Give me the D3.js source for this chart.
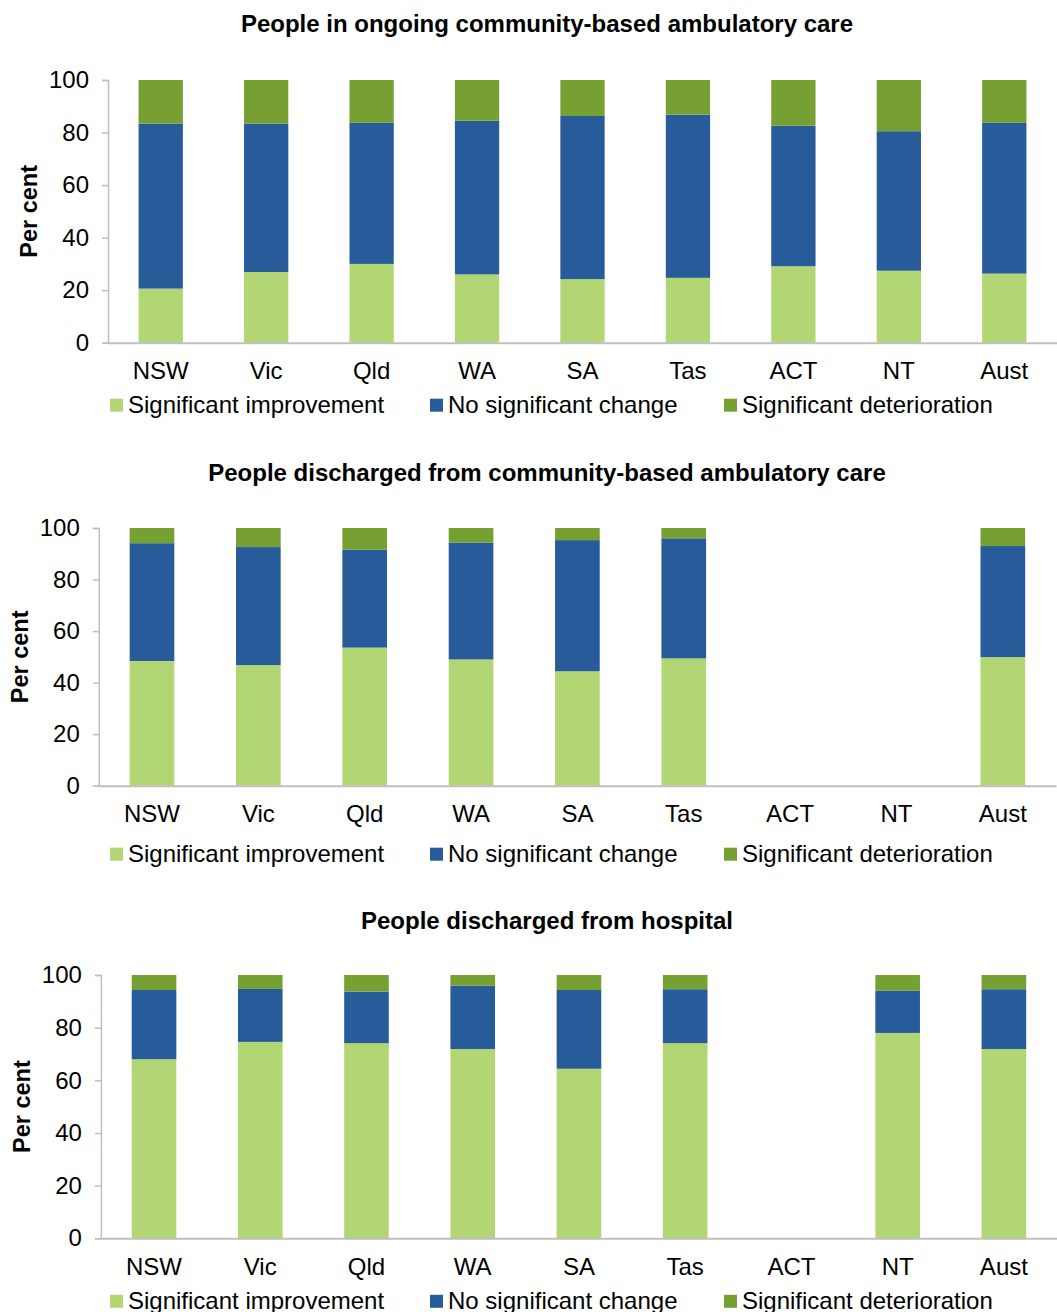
<!DOCTYPE html>
<html>
<head>
<meta charset="utf-8">
<script src="https://cdn.jsdelivr.net/npm/d3@7"></script>
<style>
  html, body { margin: 0; padding: 0; background: #fff; }
  svg { display: block; }
  text { font-family: "Liberation Sans", Arial, sans-serif; fill: #000; }
</style>
</head>
<body>
<svg id="chart" width="1057" height="1312"></svg>
<script>
// ---------- data ----------
const categories = ["NSW", "Vic", "Qld", "WA", "SA", "Tas", "ACT", "NT", "Aust"];
const seriesNames = ["Significant improvement", "No significant change", "Significant deterioration"];
const yTicks = [0, 20, 40, 60, 80, 100];

const panelTitles = [
  "People in ongoing community-based ambulatory care",
  "People discharged from community-based ambulatory care",
  "People discharged from hospital"
];

// Panel 1: ongoing community-based ambulatory care
const ongoingImprovement   = [20.6, 26.9, 30.0, 26.0, 24.2, 24.7, 29.1, 27.4, 26.3];
const ongoingNoChange      = [62.8, 56.5, 53.7, 58.5, 62.1, 62.1, 53.5, 53.1, 57.4];
const ongoingDeterioration = [16.6, 16.6, 16.3, 15.5, 13.7, 13.2, 17.4, 19.5, 16.3];

// Panel 2: discharged from community-based ambulatory care (ACT, NT not available)
const commDischImprovement   = [48.4, 46.8, 53.6, 49.0, 44.4, 49.4, null, null, 49.9];
const commDischNoChange      = [45.7, 45.8, 38.0, 45.3, 50.9, 46.6, null, null, 43.1];
const commDischDeterioration = [5.9, 7.4, 8.4, 5.7, 4.7, 4.0, null, null, 7.0];

// Panel 3: discharged from hospital (ACT not available)
const hospDischImprovement   = [68.0, 74.6, 74.1, 71.9, 64.4, 74.1, null, 78.0, 71.9];
const hospDischNoChange      = [26.3, 20.1, 19.6, 24.0, 29.9, 20.5, null, 16.0, 22.7];
const hospDischDeterioration = [5.7, 5.3, 6.3, 4.1, 5.7, 5.4, null, 6.0, 5.4];

const colors = ["#B3D675", "#275B9A", "#77A033"];

// ---------- layout ----------
const panels = [
  { title: panelTitles[0], series: [ongoingImprovement, ongoingNoChange, ongoingDeterioration],
    x0: 108, x1: 1057, yTop: 80, yBot: 342.7, titleY: 32, yLabelX: 37, labelPad: 19, legOff: 70 },
  { title: panelTitles[1], series: [commDischImprovement, commDischNoChange, commDischDeterioration],
    x0: 98.8, x1: 1056, yTop: 528, yBot: 785.7, titleY: 481, yLabelX: 28, labelPad: 19, legOff: 76 },
  { title: panelTitles[2], series: [hospDischImprovement, hospDischNoChange, hospDischDeterioration],
    x0: 100.9, x1: 1057, yTop: 975, yBot: 1238.3, titleY: 929, yLabelX: 30, labelPad: 20, legOff: 70.5 }
];

const svg = d3.select("#chart");
const axisColor = "#BFBFBF";
const labelSize = 24;

panels.forEach(p => {
  const g = svg.append("g");
  const x = d3.scaleBand().domain(categories).range([p.x0, p.x1]).padding(0);
  const y = d3.scaleLinear().domain([0, 100]).range([p.yBot, p.yTop]);
  const barW = x.bandwidth() * 0.42;

  // title
  g.append("text")
    .attr("x", 547).attr("y", p.titleY)
    .attr("text-anchor", "middle")
    .attr("font-weight", "bold")
    .attr("font-size", 24)
    .text(p.title);

  // stacked data
  const rows = categories.map((c, i) => {
    const r = { cat: c };
    seriesNames.forEach((s, k) => { r[s] = p.series[k][i]; });
    return r;
  });
  const stack = d3.stack().keys(seriesNames).value((d, key) => d[key] == null ? 0 : d[key]);
  const stacked = stack(rows);

  g.selectAll("g.series")
    .data(stacked)
    .join("g")
    .attr("class", "series")
    .attr("fill", (d, i) => colors[i])
    .selectAll("rect")
    .data(d => d.filter(s => s.data[d.key] != null))
    .join("rect")
    .attr("x", d => x(d.data.cat) + (x.bandwidth() - barW) / 2)
    .attr("width", barW)
    .attr("y", d => y(d[1]))
    .attr("height", d => y(d[0]) - y(d[1]));

  // y axis
  const yAxis = d3.axisLeft(y).tickValues(yTicks).tickSize(6).tickPadding(13);
  const ya = g.append("g").attr("transform", `translate(${p.x0},0)`).call(yAxis);
  ya.select(".domain").attr("stroke", axisColor).attr("stroke-width", 1.5);
  ya.selectAll(".tick line").attr("stroke", axisColor).attr("stroke-width", 1.5);
  ya.selectAll(".tick text")
    .attr("font-size", labelSize)
    .attr("font-family", "Liberation Sans, Arial, sans-serif")
    .attr("fill", "#000");

  // x axis
  const xAxis = d3.axisBottom(x).tickSize(0).tickPadding(p.labelPad);
  const xa = g.append("g").attr("transform", `translate(0,${p.yBot})`).call(xAxis);
  xa.select(".domain").attr("stroke", axisColor).attr("stroke-width", 2);
  xa.selectAll(".tick text")
    .attr("font-size", labelSize)
    .attr("font-family", "Liberation Sans, Arial, sans-serif")
    .attr("fill", "#000");

  // y label
  g.append("text")
    .attr("transform", `translate(${p.yLabelX},${(p.yTop + p.yBot) / 2}) rotate(-90)`)
    .attr("text-anchor", "middle")
    .attr("font-weight", "bold")
    .attr("font-size", 23.5)
    .text("Per cent");

  // legend
  const legendX = [110, 430, 724];
  const legY = p.yBot + p.legOff;
  const lg = g.append("g");
  seriesNames.forEach((s, i) => {
    lg.append("rect")
      .attr("x", legendX[i]).attr("y", legY - 14)
      .attr("width", 13).attr("height", 13)
      .attr("fill", colors[i]);
    lg.append("text")
      .attr("x", legendX[i] + 18).attr("y", legY)
      .attr("font-size", 24)
      .text(s);
  });
});
</script>
</body>
</html>
